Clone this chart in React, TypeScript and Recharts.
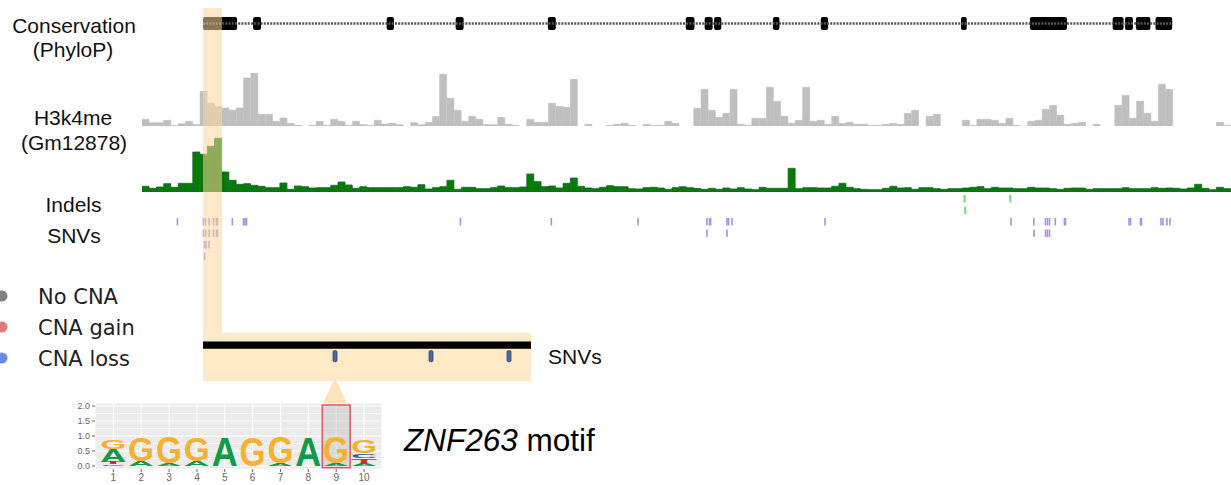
import React from "react";
import {
  Bar,
  BarChart,
  CartesianGrid,
  ComposedChart,
  ReferenceArea,
  ReferenceLine,
  Scatter,
  Trapezoid,
  XAxis,
  YAxis,
} from "recharts";

// ---- genome tracks: 150 bins of 1 kb each ----
const TRACK_KB = 150;

// H3k4me signal, grey track (one value per kb bin)
const CONSERVATION_SIGNAL = [
  6.7, 3.3, 3.3, 5.7, 0.5, 2.3, 4.7, 1.3, 34.7, 22.7,
  19.7, 18, 16, 18, 48, 53, 11.7, 11.7, 4.7, 8,
  2.7, 0.7, 0, 0.7, 4.7, 0.7, 6.7, 4.7, 0.7, 4.7,
  1.3, 0.7, 5.7, 2, 2.7, 1.3, 0, 3.3, 1.3, 3.7,
  9.7, 51.7, 27.7, 15.7, 4.7, 9.7, 6.7, 1.3, 1.3, 8.7,
  1.7, 0.7, 0, 6.7, 3.7, 3.7, 22.7, 19.7, 18.7, 46.7,
  0, 1.7, 0, 0, 0.7, 1.7, 2.7, 0.7, 0, 1.7,
  0.7, 0.7, 4.7, 2.7, 0, 0, 17.7, 36.7, 15.7, 8.7,
  12.7, 36.7, 1.7, 0.7, 7.7, 7.7, 38.7, 24.7, 9.7, 2.7,
  5.7, 38.7, 4.7, 5.7, 1.7, 9.7, 2.7, 3.7, 1.7, 1.7,
  0.7, 0.7, 1.7, 2.7, 1.7, 12.7, 15.7, 0, 9.7, 11.7,
  0, 0, 0, 5.7, 0.7, 6.7, 6.7, 5.7, 2.7, 7.7,
  0.7, 0, 4.7, 5.7, 16.7, 20.7, 10.7, 1.7, 2.7, 3.7,
  0, 1.7, 0, 0, 20.7, 30.7, 7.7, 24.7, 12.7, 4.7,
  41.7, 36.7, 0, 0, 0, 0, 0, 0, 3.7, 0.7,
];

// Gm12878 signal, green track
const GM12878_SIGNAL = [
  5.7, 3.7, 5, 8.3, 4.7, 8.7, 8.7, 40, 37.7, 45.7,
  53.7, 20, 11.7, 7.7, 8.3, 6.7, 5.7, 4.3, 4.3, 9,
  2.7, 6, 5.3, 4, 4.3, 4.3, 6.7, 10, 7, 3.7,
  5.3, 4.3, 4.3, 4.3, 4.3, 4.3, 5.3, 4.7, 7.3, 3,
  4.3, 5.3, 11.7, 2.7, 4.7, 4.7, 3.3, 3.3, 4.3, 6,
  4.3, 4.3, 5, 18, 10.3, 5.3, 6, 4, 8.7, 14,
  5.7, 4, 3.3, 4.7, 6.3, 5.3, 5.3, 3.3, 3, 4.3,
  4.7, 4, 2.7, 4.3, 5.3, 4.3, 3.7, 2.7, 3.7, 2.7,
  4, 3, 4.3, 3, 2.3, 4.7, 3.7, 3.7, 3.7, 23.7,
  3.3, 4.3, 4.3, 4, 4, 5.7, 8.7, 4.7, 3.3, 2.7,
  2.3, 2.3, 3.7, 5.7, 4, 4.3, 2.7, 4.3, 4.3, 3.3,
  2.7, 3.3, 3.3, 4, 4.7, 5.3, 3.3, 4.7, 4, 4,
  3.3, 3.3, 4.7, 4, 4, 3.3, 2.7, 3.7, 4, 4,
  2.7, 3.3, 3.3, 3.3, 3.3, 4.3, 3.3, 3.3, 3.3, 4.3,
  3.7, 4, 3.7, 3, 4, 7.7, 3.7, 2.3, 4.7, 3.3,
];

// gene model (kb)
const GENE_SPAN = [8.4, 141.9];
const EXONS = [
  [8.4, 13.1], [15.3, 16.4], [33.7, 34.7], [43.2, 44.3], [55.9, 57.0],
  [74.9, 76.1], [77.5, 78.6], [78.8, 79.8], [86.9, 87.8], [93.5, 94.5],
  [112.8, 113.6], [122.3, 127.4], [133.7, 135.2], [135.4, 136.5],
  [136.9, 138.9], [139.6, 141.9],
];

// variants (kb), one list per stacked row
const INDEL_ROWS = [
  [113.3, 119.6],
  [113.4],
];
const SNV_ROWS = [
  [4.88, 8.47, 8.75, 9.23, 9.85, 10.26, 10.4, 12.45, 13.98, 14.19, 14.39, 43.86,
    56.38, 68.32, 77.82, 78.17, 78.32, 80.58, 80.79, 81.27, 94.08, 119.7, 122.84,
    124.45, 124.72, 125.0, 125.8, 127.05, 127.2, 135.95, 136.16, 137.53, 137.67,
    140.36, 140.63, 141.18, 141.6],
  [8.47, 8.75, 9.23, 9.85, 10.26, 10.4, 77.82, 80.58, 122.87, 124.45, 124.72, 125.0],
  [8.61, 8.82, 9.23],
  [8.61],
];

const HIGHLIGHT_KB = [8.4, 11.02];

// zoomed window (bp within highlighted region)
const ZOOM_WINDOW_BP = 328;
const ZOOM_SNVS_BP = [132, 228, 306];

// ZNF263 motif, letters stacked bottom -> top with height in bits
const MOTIF_POSITIONS = ["1", "2", "3", "4", "5", "6", "7", "8", "9", "10"];
const MOTIF_STACKS: [string, number][][] = [
  [["C", 0.06], ["T", 0.08], ["A", 0.42], ["G", 0.3]],
  [["A", 0.18], ["G", 0.8]],
  [["A", 0.1], ["G", 0.87]],
  [["A", 0.17], ["G", 0.8]],
  [["A", 0.98]],
  [["G", 0.98]],
  [["A", 0.09], ["G", 0.88]],
  [["A", 0.98]],
  [["A", 0.1], ["G", 0.87]],
  [["A", 0.08], ["T", 0.19], ["C", 0.15], ["G", 0.43]],
];
const MOTIF_HIGHLIGHT = "9";
const BASE_COLORS: Record<string, string> = {
  A: "#129a4b",
  C: "#2b5f9e",
  G: "#f6b130",
  T: "#d62839",
};

const LEGEND_LABELS = ["No CNA", "CNA gain", "CNA loss"];
const LEGEND_COLORS = ["#808080", "#e07c7c", "#6a88e8"];

const NO_MARGIN = { top: 0, right: 0, bottom: 0, left: 0 };
const SANS = "'Liberation Sans', Arial, sans-serif";
const HIGHLIGHT_FILL = "rgb(255,214,155)";

const grayData = CONSERVATION_SIGNAL.map((v, i) => ({ kb: i, v }));
const greenData = GM12878_SIGNAL.map((v, i) => ({ kb: i, v }));
// exon starts, used only as anchor points for the gene / highlight charts
const exonAnchors = EXONS.map(([s]) => ({ x: s, y: 0.5 }));
const indelData = INDEL_ROWS.flatMap((row, r) => row.map((x) => ({ x, row: r })));
const snvData = SNV_ROWS.flatMap((row, r) => row.map((x) => ({ x, row: r + 2 })));
const zoomData = ZOOM_SNVS_BP.map((x) => ({ x, row: 1 }));

const LEVELS = [0, 1, 2, 3];
const logoData = MOTIF_POSITIONS.map((pos, i) => {
  const row: Record<string, string | number> = { pos };
  LEVELS.forEach((k) => {
    const cell = MOTIF_STACKS[i][k];
    row[`h${k}`] = cell ? cell[1] : 0;
    row[`c${k}`] = cell ? cell[0] : "";
  });
  return row;
});

const tickShape = (w: number, h: number, color: string) => (p: any) => (
  <rect x={p.cx - w / 2} y={p.cy - h / 2} width={w} height={h} fill={color} />
);
const noShape = () => <g />;

const glyphShape = (level: number) => (p: any) => {
  const letter = p.payload?.[`c${level}`];
  if (!letter || !(p.height > 0.4)) return <g />;
  return (
    <text
      x={p.x}
      y={p.y + p.height}
      fontSize={p.height / 0.72}
      fontFamily={SANS}
      fontWeight={700}
      fill={BASE_COLORS[letter]}
      textLength={p.width}
      lengthAdjust="spacingAndGlyphs"
    >
      {letter}
    </text>
  );
};

const abs = (left: number, top: number): React.CSSProperties => ({ position: "absolute", left, top });

export default function App() {
  return (
    <div style={{ position: "fixed", left: 0, top: 0, width: 1231, height: 485, background: "#fff", overflow: "hidden" }}>
      {/* gene model */}
      <div style={abs(142, 17)}>
        <ComposedChart width={1089} height={13} margin={NO_MARGIN}>
          <XAxis type="number" dataKey="x" domain={[0, TRACK_KB]} hide />
          <YAxis type="number" dataKey="y" domain={[0, 1]} hide />
          <Scatter data={exonAnchors} shape={noShape} isAnimationActive={false} />
          <ReferenceLine
            segment={[{ x: GENE_SPAN[0], y: 0.5 }, { x: GENE_SPAN[1], y: 0.5 }]}
            stroke="#555"
            strokeWidth={2.5}
            strokeDasharray="2 1.2"
          />
          {EXONS.map(([s, e]) => (
            <ReferenceArea key={s} x1={s} x2={e} y1={0} y2={1} fill="#000" fillOpacity={1} radius={2} />
          ))}
        </ComposedChart>
      </div>

      {/* grey signal track */}
      <div style={abs(142, 73)}>
        <BarChart width={1089} height={53} data={grayData} margin={NO_MARGIN} barCategoryGap={0} barGap={0}>
          <XAxis dataKey="kb" hide />
          <YAxis domain={[0, 53]} hide />
          <Bar dataKey="v" fill="#bfbfbf" stroke="#bfbfbf" strokeWidth={0.6} isAnimationActive={false} />
        </BarChart>
      </div>

      {/* green signal track */}
      <div style={abs(142, 137)}>
        <BarChart width={1089} height={55} data={greenData} margin={NO_MARGIN} barCategoryGap={0} barGap={0}>
          <XAxis dataKey="kb" hide />
          <YAxis domain={[0, 55]} hide />
          <Bar dataKey="v" fill="#047d04" stroke="#17602c" strokeWidth={0.8} isAnimationActive={false} />
        </BarChart>
      </div>

      {/* indels + SNVs */}
      <div style={abs(142, 193.25)}>
        <ComposedChart width={1089} height={69} margin={NO_MARGIN}>
          <XAxis type="number" dataKey="x" domain={[0, TRACK_KB]} hide />
          <YAxis type="number" dataKey="row" domain={[-0.5, 5.5]} reversed hide />
          <Scatter data={indelData} shape={tickShape(2, 7.5, "#72d872")} isAnimationActive={false} />
          <Scatter data={snvData} shape={tickShape(1.6, 7.5, "#aa8ff0")} isAnimationActive={false} />
        </ComposedChart>
      </div>

      {/* highlighted region */}
      <div style={abs(142, 8)}>
        <ComposedChart width={1089} height={325} margin={NO_MARGIN}>
          <XAxis type="number" dataKey="x" domain={[0, TRACK_KB]} hide />
          <YAxis type="number" dataKey="y" domain={[0, 1]} hide />
          <Scatter data={exonAnchors} shape={noShape} isAnimationActive={false} />
          <ReferenceArea
            x1={HIGHLIGHT_KB[0]}
            x2={HIGHLIGHT_KB[1]}
            y1={0}
            y2={1}
            fill={HIGHLIGHT_FILL}
            fillOpacity={0.55}
            stroke="none"
          />
        </ComposedChart>
      </div>

      {/* zoomed window */}
      <div style={{ ...abs(203, 333), background: "#ffe9c7" }}>
        <ComposedChart width={328} height={48} margin={NO_MARGIN}>
          <XAxis type="number" dataKey="x" domain={[0, ZOOM_WINDOW_BP]} hide />
          <YAxis type="number" dataKey="row" domain={[-1.1, 3.25]} reversed hide />
          <ReferenceArea x1={0} x2={ZOOM_WINDOW_BP} y1={-0.32} y2={0.32} fill="#000" fillOpacity={1} />
          <Scatter
            data={zoomData}
            isAnimationActive={false}
            shape={(p: any) => (
              <rect x={p.cx - 2} y={p.cy - 5.5} width={4} height={11} rx={1.2} fill="#4a6aa4" stroke="#2b3f6b" strokeWidth={0.8} />
            )}
          />
        </ComposedChart>
      </div>

      {/* motif logo */}
      <div style={abs(60, 398)}>
        <BarChart width={330} height={87} data={logoData} margin={{ top: 5, right: 8, bottom: 0, left: 0 }} barCategoryGap="3%">
          <CartesianGrid fill="#ebebeb" stroke="#ffffff" strokeWidth={1} />
          <CartesianGrid horizontalValues={[0.25, 0.75, 1.25, 1.75]} vertical={false} stroke="#ffffff" strokeWidth={0.5} />
          <XAxis
            dataKey="pos"
            axisLine={false}
            tickLine={{ stroke: "#666" }}
            tickSize={3}
            interval={0}
            height={16}
            padding={{ left: 4.4, right: 4 }}
            tick={{ fontSize: 10, fill: "#666", fontFamily: SANS }}
          />
          <YAxis
            domain={[-0.1, 2.1]}
            ticks={[0, 0.5, 1, 1.5, 2]}
            interval={0}
            tickFormatter={(v: number) => v.toFixed(1)}
            width={35}
            axisLine={false}
            tickLine={{ stroke: "#666" }}
            tickSize={3}
            tick={{ fontSize: 9, fill: "#666", fontFamily: SANS }}
          />
          {LEVELS.map((k) => (
            <Bar key={k} dataKey={`h${k}`} stackId="logo" shape={glyphShape(k)} isAnimationActive={false} />
          ))}
          <ReferenceArea
            x1={MOTIF_HIGHLIGHT}
            x2={MOTIF_HIGHLIGHT}
            y1={-0.06}
            y2={2.03}
            fill="#9e9e9e"
            fillOpacity={0.25}
            stroke="#e0585a"
            strokeWidth={1.5}
          />
        </BarChart>
      </div>

      {/* labels and annotations */}
      <svg width={1231} height={485} style={{ position: "absolute", left: 0, top: 0, pointerEvents: "none" }}>
        <Trapezoid x={333.5} y={381} upperWidth={3} lowerWidth={24} height={22} fill="#ffe3bd" />
        <g fontFamily={SANS} fontSize={21} fill="#111" textAnchor="middle">
          <text x={74} y={33}>Conservation</text>
          <text x={73} y={57}>(PhyloP)</text>
          <text x={73} y={125}>H3k4me</text>
          <text x={74} y={150}>(Gm12878)</text>
          <text x={73.5} y={212}>Indels</text>
          <text x={74} y={243}>SNVs</text>
        </g>
        <text x={548} y={364} fontFamily={SANS} fontSize={21} fill="#111">SNVs</text>
        {LEGEND_LABELS.map((label, i) => (
          <g key={label}>
            <circle cx={2} cy={296 + i * 31} r={5.5} fill={LEGEND_COLORS[i]} />
            <text x={38} y={304 + i * 31} fontFamily="'DejaVu Sans', sans-serif" fontSize={21} fill="#222">
              {label}
            </text>
          </g>
        ))}
        <text x={404} y={451} fontFamily={SANS} fontSize={31.5} fill="#000">
          <tspan fontStyle="italic">ZNF263</tspan>
          <tspan> motif</tspan>
        </text>
      </svg>
    </div>
  );
}
